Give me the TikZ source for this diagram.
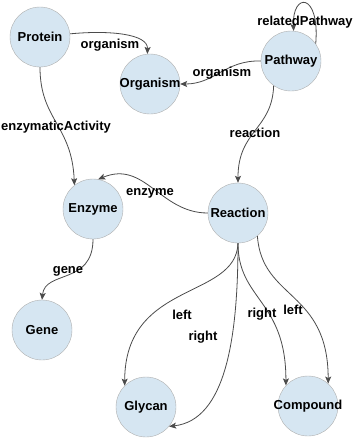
\documentclass[tikz,border=0pt]{standalone}
\usepackage{fontspec}
\setmainfont{Liberation Sans}
\usetikzlibrary{arrows.meta}
\definecolor{classfill}{RGB}{214,230,242}
\definecolor{classline}{RGB}{175,175,175}
\definecolor{edgegray}{RGB}{75,75,75}
\newcommand{\cname}[1]{\makebox[0pt]{#1}}

\begin{document}
\begin{tikzpicture}[x=1pt,y=-1pt,
    cls/.style={circle,draw=classline,fill=classfill,minimum size=60pt,inner sep=0pt,font=\fontsize{13}{15}\selectfont\bfseries},
    rel/.style={draw=edgegray,line width=0.8pt,-{Stealth[length=7pt,width=6pt,inset=1.5pt]}},
    lbl/.style={font=\fontsize{13}{15}\selectfont\bfseries,inner sep=0pt}]
    \useasboundingbox (0,0) rectangle (354,440);
    % classes
    \node [cls] (protein) at (40,37) {\cname{Protein}};
    \node [cls] (organism) at (150,84) {\cname{Organism}};
    \node [cls] (pathway) at (291,61) {\cname{Pathway}};
    \node [cls] (enzyme) at (93,209) {\cname{Enzyme}};
    \node [cls] (reaction) at (238,213) {\cname{Reaction}};
    \node [cls] (gene) at (42,330) {\cname{Gene}};
    \node [cls] (glycan) at (146,407) {\cname{Glycan}};
    \node [cls] (compound) at (308,406) {\cname{Compound}};
    % properties
    \draw [rel] (protein.6) .. controls (110,30) and (148,34) .. (organism.95);
    \draw [rel] (pathway.180) .. controls (225,60) and (215,84) .. (organism.east);
    \draw [rel] (pathway.35) .. controls (320,-8) and (292,-8) .. (pathway.85);
    \draw [rel] (pathway.235) .. controls (272,130) and (238,130) .. (reaction.north);
    \draw [rel] (protein.south) .. controls (40,120) and (72,125) .. (enzyme.128);
    \draw [rel] (reaction.west) .. controls (160,213) and (145,160) .. (enzyme.80);
    \draw [rel] (enzyme.south) .. controls (93,285) and (45,270) .. (gene.north);
    \draw [rel] (reaction.south) .. controls (236,300) and (125,280) .. (glycan.135);
    \draw [rel] (reaction.south) .. controls (238,340) and (225,420) .. (glycan.-40);
    \draw [rel] (reaction.south) .. controls (238,300) and (286,300) .. (compound.137);
    \draw [rel] (reaction.-50) .. controls (262,300) and (328,290) .. (compound.48);
    % labels
    \node [lbl] (l-org1) at (110,45) {organism};
    \node [lbl] (l-org2) at (222,73) {organism};
    \node [lbl] (l-rel) at (305,22) {relatedPathway};
    \node [lbl] (l-reac) at (255,133) {reaction};
    \node [lbl] (l-enzact) at (56,127) {enzymaticActivity};
    \node [lbl] (l-enz) at (150,193) {enzyme};
    \node [lbl] (l-gene) at (68,271) {gene};
    \node [lbl] (l-left1) at (182,315) {left};
    \node [lbl] (l-right1) at (203,337) {right};
    \node [lbl] (l-right2) at (262,314) {right};
    \node [lbl] (l-left2) at (293,310) {left};
\end{tikzpicture}
\end{document}
